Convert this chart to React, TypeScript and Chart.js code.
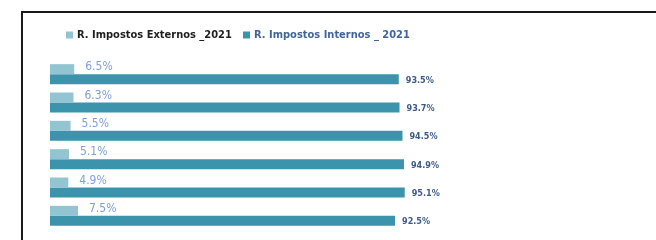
import React, { useEffect, useRef } from "react";
import { Chart, registerables } from "chart.js";

Chart.register(...registerables);

const categories = ["Rango 1", "Rango 2", "Rango 3", "Rango 4", "Rango 5", "Rango 6"];
const externos = [6.5, 6.3, 5.5, 5.1, 4.9, 7.5];
const internos = [93.5, 93.7, 94.5, 94.9, 95.1, 92.5];
const seriesNames = ["R. Impostos Externos _2021", "R. Impostos Internos _ 2021"];

const FONT = "'DejaVu Sans Condensed', 'Liberation Sans Narrow', 'DejaVu Sans', sans-serif";

const legendPlugin = {
  id: "customLegend",
  afterDraw(chart: any) {
    const ctx = chart.ctx;
    ctx.save();
    const items = [
      { x: 66, text: seriesNames[0], color: "#93c4d2", textColor: "#1e1e1e" },
      { x: 243, text: seriesNames[1], color: "#3b94ab", textColor: "#41649a" },
    ];
    const y = 35.5;
    items.forEach((it) => {
      ctx.fillStyle = it.color;
      ctx.fillRect(it.x, y - 4, 7, 7);
      ctx.font = `bold 11px ${FONT}`;
      ctx.fillStyle = it.textColor;
      ctx.textBaseline = "middle";
      ctx.textAlign = "left";
      ctx.fillText(it.text, it.x + 11, y);
    });
    ctx.restore();
  },
};

const labelPlugin = {
  id: "barLabels",
  afterDatasetsDraw(chart: any) {
    const ctx = chart.ctx;
    ctx.save();
    chart.data.datasets.forEach((ds: any, di: number) => {
      const meta = chart.getDatasetMeta(di);
      meta.data.forEach((el: any, i: number) => {
        const v = ds.data[i];
        const txt = v.toFixed(1) + "%";
        ctx.textBaseline = "middle";
        ctx.textAlign = "left";
        if (di === 0) {
          ctx.font = `normal 12px ${FONT}`;
          ctx.fillStyle = "#7f9fd8";
          ctx.fillText(txt, el.x + 11, el.y - 2);
        } else {
          ctx.font = `bold 9px ${FONT}`;
          ctx.fillStyle = "#3f5b8c";
          ctx.fillText(txt, el.x + 7, el.y + 1);
        }
      });
    });
    ctx.restore();
  },
};

export default function App() {
  const ref = useRef<HTMLCanvasElement>(null);
  useEffect(() => {
    if (!ref.current) return;
    const chart = new Chart(ref.current, {
      type: "bar",
      data: {
        labels: categories,
        datasets: [
          {
            label: seriesNames[0],
            data: externos,
            backgroundColor: "#93c4d2",
            categoryPercentage: 0.706,
            barPercentage: 1,
          },
          {
            label: seriesNames[1],
            data: internos,
            backgroundColor: "#3b94ab",
            categoryPercentage: 0.706,
            barPercentage: 1,
          },
        ],
      },
      options: {
        indexAxis: "y",
        animation: false,
        responsive: false,
        maintainAspectRatio: false,
        layout: { padding: { left: 50, right: 233, top: 60, bottom: 10 } },
        plugins: {
          legend: { display: false },
          tooltip: { enabled: false },
        },
        scales: {
          x: { display: false, min: 0, max: 100 },
          y: { display: false },
        },
      },
      plugins: [legendPlugin, labelPlugin],
    });
    return () => chart.destroy();
  }, []);
  return (
    <div style={{ position: "fixed", left: 0, top: 0, width: 656, height: 240, background: "#fff" }}>
      <div
        style={{
          position: "absolute",
          left: 21,
          top: 11,
          right: 0,
          bottom: 0,
          borderLeft: "2px solid #1a1a1a",
          borderTop: "2px solid #1a1a1a",
        }}
      />
      <canvas ref={ref} width={656} height={240} style={{ position: "absolute", left: 0, top: 0 }} />
    </div>
  );
}
